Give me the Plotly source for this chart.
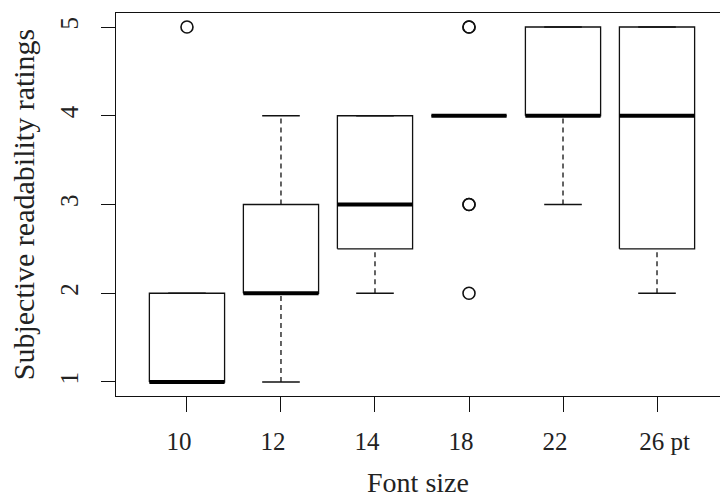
import plotly.graph_objects as go

categories = ["10", "12", "14", "18", "22", "26 pt"]
q1 = [1, 2, 2.5, 4, 4, 2.5]
median = [1, 2, 3, 4, 4, 4]
q3 = [2, 3, 4, 4, 5, 5]
whisker_lo = [1, 1, 2, 4, 3, 2]
whisker_hi = [2, 4, 4, 4, 5, 5]
outliers = [[5], [], [], [5, 5, 3, 3, 2], [], []]
y_ticks = [1, 2, 3, 4, 5]

BOXW = 0.4   # half box width (boxwex 0.8)
CAPW = 0.2   # half staple width
FONT = "Liberation Serif"
INK = "#111111"
TXT = "#222222"

pos = list(range(1, len(categories) + 1))
# labels sit slightly left of their ticks in the reference; the last one carries " pt"
tick_text = [("\u00a0" * 5 + c) if "pt" in c else c for c in categories]

wx, wy, cx, cy, bx, by, mx, my, ox, oy = [], [], [], [], [], [], [], [], [], []
for i, p in enumerate(pos):
    if whisker_lo[i] < q1[i]:
        wx += [p, p, None]; wy += [whisker_lo[i], q1[i], None]
    if whisker_hi[i] > q3[i]:
        wx += [p, p, None]; wy += [q3[i], whisker_hi[i], None]
    for v in (whisker_lo[i], whisker_hi[i]):
        cx += [p - CAPW, p + CAPW, None]; cy += [v, v, None]
    bx += [p - BOXW, p + BOXW, p + BOXW, p - BOXW, p - BOXW, None]
    by += [q1[i], q1[i], q3[i], q3[i], q1[i], None]
    mx += [p - BOXW, p + BOXW, None]; my += [median[i], median[i], None]
    for v in outliers[i]:
        ox.append(p); oy.append(v)

fig = go.Figure()
fig.add_trace(go.Scatter(x=wx, y=wy, mode="lines",
                         line=dict(color=INK, width=1.3, dash="5px,4px"), hoverinfo="skip"))
fig.add_trace(go.Scatter(x=cx, y=cy, mode="lines",
                         line=dict(color=INK, width=1.3), hoverinfo="skip"))
fig.add_trace(go.Scatter(x=bx, y=by, mode="lines",
                         line=dict(color=INK, width=1.3), hoverinfo="skip"))
fig.add_trace(go.Scatter(x=mx, y=my, mode="lines",
                         line=dict(color="black", width=4), hoverinfo="skip"))
fig.add_trace(go.Scatter(x=ox, y=oy, mode="markers",
                         marker=dict(symbol="circle-open", size=12, color=INK,
                                     line=dict(width=1.6, color=INK)), hoverinfo="skip"))

fig.update_layout(
    width=720, height=500, autosize=False,
    margin=dict(l=116, r=0, t=13, b=104, pad=0),
    paper_bgcolor="white", plot_bgcolor="white",
    showlegend=False,
    font=dict(family=FONT, size=25, color=TXT),
)
fig.update_xaxes(
    range=[0.245, 6.67], tickmode="array", tickvals=pos, ticktext=tick_text,
    showline=True, linecolor=INK, linewidth=1.4, mirror=True,
    ticks="outside", ticklen=15, tickwidth=1.3, tickcolor=INK,
    ticklabelshift=-8, ticklabelstandoff=8, automargin=False,
    showgrid=False, zeroline=False,
    title=dict(text="Font size", standoff=18,
               font=dict(family=FONT, size=28, color=TXT)),
    tickfont=dict(family=FONT, size=25, color=TXT),
)
fig.update_yaxes(
    range=[0.842, 5.158], tickmode="array", tickvals=y_ticks,
    ticktext=[str(t) for t in y_ticks],
    showline=True, linecolor=INK, linewidth=1.4,
    ticks="outside", ticklen=14, tickwidth=1.3, tickcolor=INK,
    tickangle=-90, ticklabelstandoff=13, automargin=False,
    showgrid=False, zeroline=False,
    title=dict(text="Subjective readability ratings", standoff=12,
               font=dict(family=FONT, size=30, color=TXT)),
    tickfont=dict(family=FONT, size=25, color=TXT),
)

fig.write_html("out.html")
